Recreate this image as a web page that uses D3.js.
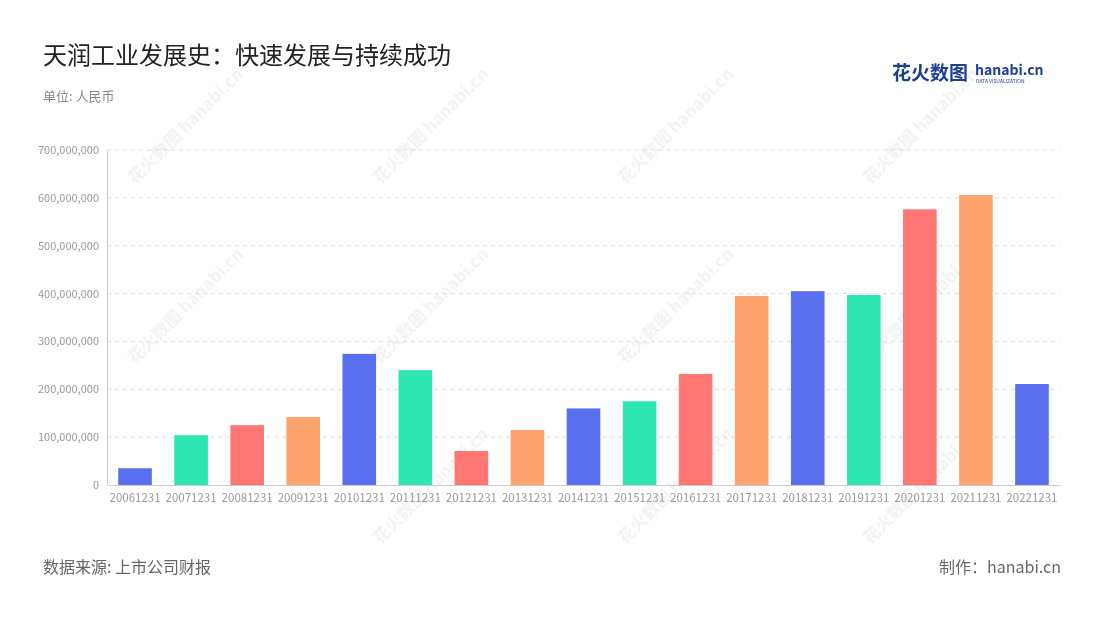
<!DOCTYPE html>
<html><head><meta charset="utf-8">
<script src="https://cdn.jsdelivr.net/npm/d3@7"></script>
<style>body{margin:0;background:#fff;font-family:"Noto Sans CJK SC","Noto Sans",sans-serif}</style>
</head><body><svg id="c" width="1100" height="620"></svg>
<script>
const categories=["20061231","20071231","20081231","20091231","20101231","20111231","20121231","20131231","20141231","20151231","20161231","20171231","20181231","20191231","20201231","20211231","20221231"];
const values=[35e6,104e6,125e6,142e6,274e6,240e6,71e6,115e6,160e6,175e6,232e6,395e6,405e6,397e6,576e6,606e6,211e6];
const tickValues=[0,1e8,2e8,3e8,4e8,5e8,6e8,7e8];
const palette=["#5a6ff0","#2ee6b0","#ff7672","#ffa36f"];

const svg=d3.select("#c");
const F='"Noto Sans CJK SC",sans-serif';
const wm=svg.append("g").attr("opacity",0.06);
[[135,185],[380,185],[625,185],[870,185],[135,365],[380,365],[625,365],[870,365],[380,545],[625,545],[870,545]].forEach(([x,y])=>{
 wm.append("text").attr("transform",`translate(${x},${y}) rotate(-45)`).attr("font-family",F).attr("font-size",17).attr("font-weight","bold").attr("fill","#333").text("花火数图 hanabi.cn");
});
svg.append("text").attr("x",43).attr("y",64).attr("font-family",F).attr("font-size",24).attr("fill","#222").text("天润工业发展史：快速发展与持续成功");
svg.append("text").attr("x",43).attr("y",101).attr("font-family",F).attr("font-size",13).attr("fill","#888").text("单位: 人民币");
svg.append("text").attr("x",892).attr("y",80).attr("font-family",F).attr("font-size",19).attr("font-weight","bold").attr("fill","#1d3f8f").text("花火数图");
svg.append("text").attr("x",975).attr("y",75).attr("font-family",F).attr("font-size",14).attr("font-weight","bold").attr("fill","#1d3f8f").text("hanabi.cn");
svg.append("text").attr("x",976).attr("y",83).attr("font-family",F).attr("font-size",5).attr("fill","#1d3f8f").text("DATA VISUALIZATION");
svg.append("text").attr("x",43).attr("y",573).attr("font-family",F).attr("font-size",16).attr("fill","#666").text("数据来源: 上市公司财报");
svg.append("text").attr("x",1061).attr("y",573).attr("text-anchor","end").attr("font-family",F).attr("font-size",16).attr("fill","#666").text("制作：hanabi.cn");

const x=d3.scaleBand().domain(categories).range([107,1060]).paddingInner(0.4).paddingOuter(0.2);
const y=d3.scaleLinear().domain([0,7e8]).range([485,150]);
const g=svg.append("g");
g.selectAll(".gl").data(tickValues.slice(1)).join("line").attr("x1",107).attr("x2",1060).attr("y1",d=>y(d)).attr("y2",d=>y(d)).attr("stroke","#ddd").attr("stroke-dasharray","4,4");
g.selectAll("rect").data(values).join("rect").attr("x",(d,i)=>x(categories[i])).attr("width",x.bandwidth()).attr("y",d=>y(d)).attr("height",d=>y(0)-y(d)).attr("fill",(d,i)=>palette[i%4]);
const ya=svg.append("g").attr("transform","translate(107,0)").call(d3.axisLeft(y).tickValues(tickValues).tickFormat(d3.format(",")).tickSize(0).tickPadding(8));
ya.select(".domain").attr("stroke","#ccc");
ya.selectAll("text").attr("font-family",F).attr("font-size",11).attr("fill","#999");
const xa=svg.append("g").attr("transform","translate(0,485)").call(d3.axisBottom(x).tickSize(0).tickPadding(9));
xa.select(".domain").attr("stroke","#ccc");
xa.selectAll("text").attr("font-family",F).attr("font-size",11.5).attr("fill","#999");
</script></body></html>
